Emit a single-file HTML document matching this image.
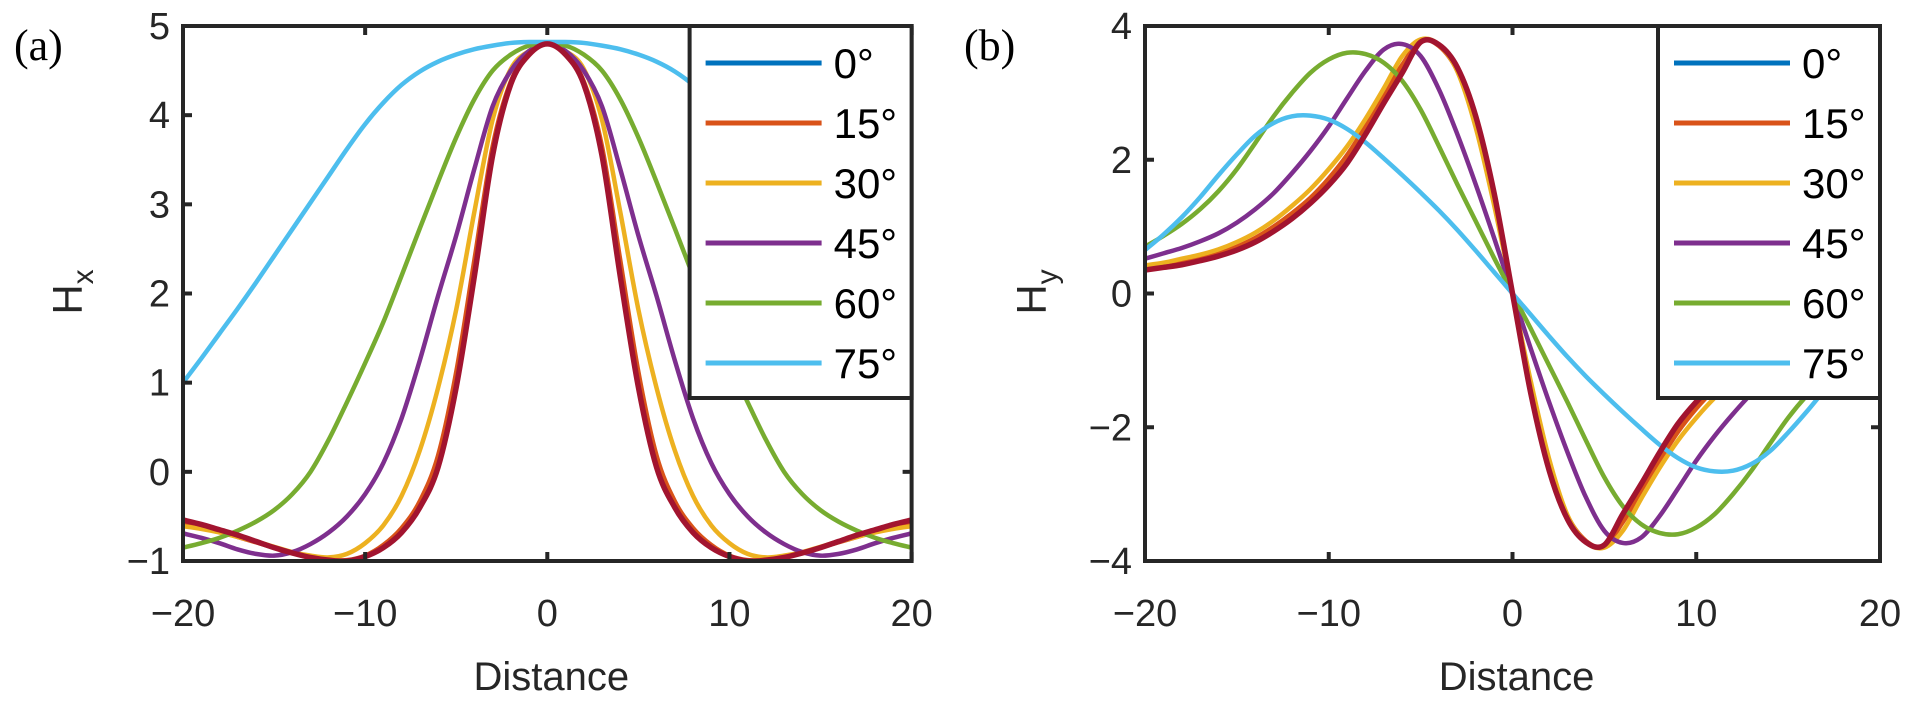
<!DOCTYPE html>
<html><head><meta charset="utf-8"><style>
html,body{margin:0;padding:0;background:#fff;}
svg{display:block;font-family:"Liberation Sans",Arial,sans-serif;}
</style></head><body>
<svg id="fig" width="1920" height="709" viewBox="0 0 1920 709"></svg>
<script>
// ---- data ----
const distance = [-20,-19,-18,-17,-16,-15,-14,-13,-12,-11,-10,-9,-8,-7,-6,-5,-4,-3,-2,-1,0,1,2,3,4,5,6,7,8,9,10,11,12,13,14,15,16,17,18,19,20];
const angleLabels = ["0°","15°","30°","45°","60°","75°"];
const hx0  = [-0.54,-0.59,-0.65,-0.71,-0.78,-0.85,-0.91,-0.96,-0.99,-1.0,-0.95,-0.85,-0.68,-0.4,0.05,0.95,2.2,3.55,4.35,4.68,4.8,4.68,4.35,3.55,2.2,0.95,0.05,-0.4,-0.68,-0.85,-0.95,-1.0,-0.99,-0.96,-0.91,-0.85,-0.78,-0.71,-0.65,-0.59,-0.54];
const hx15 = [-0.58,-0.62,-0.67,-0.73,-0.79,-0.85,-0.91,-0.96,-0.99,-0.99,-0.94,-0.82,-0.63,-0.33,0.18,1.12,2.38,3.65,4.38,4.69,4.8,4.69,4.38,3.65,2.38,1.12,0.18,-0.33,-0.63,-0.82,-0.94,-0.99,-0.99,-0.96,-0.91,-0.85,-0.79,-0.73,-0.67,-0.62,-0.58];
const hx30 = [-0.61,-0.64,-0.68,-0.73,-0.78,-0.84,-0.9,-0.94,-0.96,-0.92,-0.8,-0.6,-0.27,0.24,0.94,1.82,2.92,3.95,4.52,4.72,4.8,4.72,4.52,3.95,2.92,1.82,0.94,0.24,-0.27,-0.6,-0.8,-0.92,-0.96,-0.94,-0.9,-0.84,-0.78,-0.73,-0.68,-0.64,-0.61];
const hx45 = [-0.69,-0.74,-0.8,-0.87,-0.92,-0.94,-0.9,-0.81,-0.68,-0.5,-0.25,0.1,0.6,1.25,1.97,2.65,3.4,4.1,4.5,4.72,4.8,4.72,4.5,4.1,3.4,2.65,1.97,1.25,0.6,0.1,-0.25,-0.5,-0.68,-0.81,-0.9,-0.94,-0.92,-0.87,-0.8,-0.74,-0.69];
const hx60 = [-0.85,-0.8,-0.74,-0.66,-0.56,-0.43,-0.25,0.0,0.36,0.78,1.22,1.68,2.2,2.73,3.25,3.75,4.18,4.5,4.68,4.78,4.8,4.78,4.68,4.5,4.18,3.75,3.25,2.73,2.2,1.68,1.22,0.78,0.36,0.0,-0.25,-0.43,-0.56,-0.66,-0.74,-0.8,-0.85];
const hx75 = [1.0,1.27,1.55,1.83,2.12,2.42,2.72,3.02,3.32,3.62,3.9,4.14,4.34,4.49,4.6,4.68,4.74,4.78,4.81,4.82,4.82,4.82,4.81,4.78,4.74,4.68,4.6,4.49,4.34,4.14,3.9,3.62,3.32,3.02,2.72,2.42,2.12,1.83,1.55,1.27,1.0];
const hy0  = [0.35,0.39,0.43,0.49,0.56,0.65,0.77,0.93,1.12,1.35,1.62,1.95,2.38,2.85,3.3,3.76,3.72,3.38,2.65,1.5,0,-1.5,-2.65,-3.38,-3.72,-3.76,-3.3,-2.85,-2.38,-1.95,-1.62,-1.35,-1.12,-0.93,-0.77,-0.65,-0.56,-0.49,-0.43,-0.39,-0.35];
const hy15 = [0.37,0.41,0.46,0.52,0.6,0.7,0.83,1.0,1.2,1.43,1.72,2.07,2.5,2.98,3.42,3.78,3.7,3.33,2.6,1.45,0,-1.45,-2.6,-3.33,-3.7,-3.78,-3.42,-2.98,-2.5,-2.07,-1.72,-1.43,-1.2,-1.0,-0.83,-0.7,-0.6,-0.52,-0.46,-0.41,-0.37];
const hy30 = [0.42,0.46,0.52,0.58,0.66,0.77,0.91,1.09,1.31,1.56,1.86,2.2,2.61,3.07,3.55,3.8,3.72,3.32,2.48,1.32,0,-1.32,-2.48,-3.32,-3.72,-3.8,-3.55,-3.07,-2.61,-2.2,-1.86,-1.56,-1.31,-1.09,-0.91,-0.77,-0.66,-0.58,-0.52,-0.46,-0.42];
const hy45 = [0.52,0.6,0.68,0.78,0.9,1.06,1.26,1.5,1.8,2.13,2.5,2.92,3.33,3.65,3.73,3.55,3.05,2.38,1.63,0.83,0,-0.83,-1.63,-2.38,-3.05,-3.55,-3.73,-3.65,-3.33,-2.92,-2.5,-2.13,-1.8,-1.5,-1.26,-1.06,-0.9,-0.78,-0.68,-0.6,-0.52];
const hy60 = [0.7,0.86,1.04,1.26,1.53,1.86,2.25,2.65,3.0,3.3,3.5,3.6,3.58,3.45,3.18,2.75,2.2,1.63,1.08,0.53,0,-0.53,-1.08,-1.63,-2.2,-2.75,-3.18,-3.45,-3.58,-3.6,-3.5,-3.3,-3.0,-2.65,-2.25,-1.86,-1.53,-1.26,-1.04,-0.86,-0.7];
const hy75 = [0.65,0.88,1.14,1.44,1.77,2.08,2.36,2.55,2.65,2.66,2.6,2.46,2.26,2.02,1.77,1.51,1.24,0.95,0.64,0.32,0,-0.32,-0.64,-0.95,-1.24,-1.51,-1.77,-2.02,-2.26,-2.46,-2.6,-2.66,-2.65,-2.55,-2.36,-2.08,-1.77,-1.44,-1.14,-0.88,-0.65];
const xTicks = [-20,-10,0,10,20];
const xTickLabels = ["\u221220","\u221210","0","10","20"];
const yTicksA = [-1,0,1,2,3,4,5];
const yTickLabelsA = ["\u22121","0","1","2","3","4","5"];
const yTicksB = [-4,-2,0,2,4];
const yTickLabelsB = ["\u22124","\u22122","0","2","4"];

const colors = ["#0072BD","#D95319","#EDB120","#7E2F8E","#77AC30","#4DBEEE"];
const NS = "http://www.w3.org/2000/svg";
const svg = document.getElementById("fig");
function mk(tag, attrs, parent){
  const e = document.createElementNS(NS, tag);
  for (const k in attrs) e.setAttribute(k, attrs[k]);
  (parent||svg).appendChild(e);
  return e;
}
function pathFrom(xs, ys, sx, sy){
  const p = xs.map((x,i)=>[sx(x), sy(ys[i])]);
  let d = "M"+p[0][0].toFixed(2)+","+p[0][1].toFixed(2);
  for (let i=0;i<p.length-1;i++){
    const p0=p[Math.max(0,i-1)], p1=p[i], p2=p[i+1], p3=p[Math.min(p.length-1,i+2)];
    const c1x=p1[0]+(p2[0]-p0[0])/6, c1y=p1[1]+(p2[1]-p0[1])/6;
    const c2x=p2[0]-(p3[0]-p1[0])/6, c2y=p2[1]-(p3[1]-p1[1])/6;
    d+=" C"+c1x.toFixed(2)+","+c1y.toFixed(2)+" "+c2x.toFixed(2)+","+c2y.toFixed(2)+" "+p2[0].toFixed(2)+","+p2[1].toFixed(2);
  }
  return d;
}

function panel(cfg){
  const g = mk("g", {});
  
  
  const L=cfg.left, R=cfg.right, T=26, B=561;
  const sx = v => L + (v - (-20)) / 40 * (R - L);
  const sy = v => B - (v - cfg.ymin) / (cfg.ymax - cfg.ymin) * (B - T);
  const clipId = cfg.name + "-clip";
  const defs = mk("defs", {}, g);
  const cp = mk("clipPath", {id: clipId}, defs);
  mk("rect", {x:L, y:T, width:R-L, height:B-T}, cp);
  const lines = mk("g", {"clip-path":"url(#"+clipId+")"}, g);
  const series = cfg.series;
  series.forEach((ys, i) => {
    const p = mk("path", {d: pathFrom(distance, ys, sx, sy), fill:"none", stroke: colors[i], "stroke-width": 4.5, "stroke-linejoin":"round", "stroke-linecap":"round"}, lines);
    
    
  });
  const top = mk("path", {d: pathFrom(distance, series[0], sx, sy), fill:"none", stroke:"#A2142F", "stroke-width": 5.5, "stroke-linejoin":"round", "stroke-linecap":"round"}, lines);
  
  
  const box = mk("rect", {x:L, y:T, width:R-L, height:B-T, fill:"none", stroke:"#262626", "stroke-width":4}, g);
  
  
  xTicks.forEach((v,i)=>{
    const x = sx(v);
    mk("line", {x1:x, y1:B, x2:x, y2:B-9, stroke:"#262626", "stroke-width":4}, g);
    mk("line", {x1:x, y1:T, x2:x, y2:T+9, stroke:"#262626", "stroke-width":4}, g);
    const t = mk("text", {x:x, y:626, "text-anchor":"middle", "font-size":38, fill:"#262626"}, g);
    t.textContent = xTickLabels[i];
    
    
  });
  cfg.yTicks.forEach((v,i)=>{
    const y = sy(v);
    mk("line", {x1:L, y1:y, x2:L+9, y2:y, stroke:"#262626", "stroke-width":4}, g);
    mk("line", {x1:R, y1:y, x2:R-9, y2:y, stroke:"#262626", "stroke-width":4}, g);
    const t = mk("text", {x:L-13, y:y+13, "text-anchor":"end", "font-size":38, fill:"#262626"}, g);
    t.textContent = cfg.yTickLabels[i];
    
    
  });
  const xt = mk("text", {x:(L+R)/2+4, y:690, "text-anchor":"middle", "font-size":40, fill:"#262626"}, g);
  xt.textContent = "Distance";
  
  
  const yt = mk("text", {transform:"translate("+cfg.ytx+",292) rotate(-90)", "text-anchor":"middle", "font-size":42, fill:"#262626"}, g);
  
  
  yt.appendChild(document.createTextNode("H"));
  const sub = mk("tspan", {"font-size":30, dy:11}, yt);
  sub.textContent = cfg.sub;
  const pl = mk("text", {x:cfg.plx, y:60, "font-size":44, "font-family":"'Liberation Serif',serif", fill:"#000"}, g);
  pl.textContent = cfg.label;
  
  
  const lg = mk("g", {}, g);
  
  
  const LL = R - 222;
  mk("rect", {x:LL, y:T, width:R-LL, height:398-T, fill:"#fff", stroke:"#262626", "stroke-width":4}, lg);
  angleLabels.forEach((lab,i)=>{
    const y = 63 + i*60;
    const e = mk("g", {}, lg);
    
    
    mk("line", {x1:LL+16, y1:y, x2:LL+132, y2:y, stroke:colors[i], "stroke-width":5}, e);
    const t = mk("text", {x:LL+144, y:y+15, "font-size":42, fill:"#000"}, e);
    t.textContent = lab;
  });
}

panel({name:"panel-a-hx", left:183, right:911.6, ymin:-1, ymax:5, yTicks:yTicksA, yTickLabels:yTickLabelsA,
  series:[hx0,hx15,hx30,hx45,hx60,hx75], ytx:82, sub:"x", plx:14, label:"(a)"});
panel({name:"panel-b-hy", left:1145, right:1880, ymin:-4, ymax:4, yTicks:yTicksB, yTickLabels:yTickLabelsB,
  series:[hy0,hy15,hy30,hy45,hy60,hy75], ytx:1046, sub:"y", plx:964, label:"(b)"});
</script>
</body></html>
